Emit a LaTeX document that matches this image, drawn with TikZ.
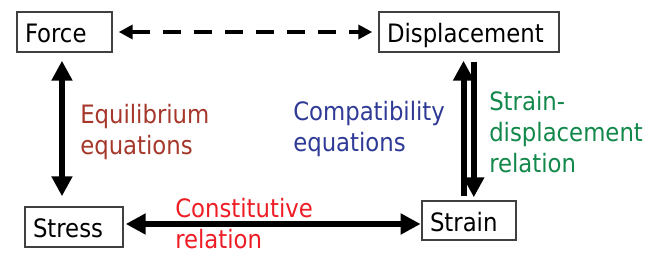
\documentclass[tikz,border=0pt]{standalone}
\usepackage{fontspec}
\setmainfont{DejaVu Sans Condensed}
\usetikzlibrary{arrows.meta}
\definecolor{eqbrown}{RGB}{165, 55, 43}
\definecolor{compblue}{RGB}{47, 58, 150}
\definecolor{sdgreen}{RGB}{18, 136, 74}
\definecolor{constred}{RGB}{238, 29, 37}
\definecolor{boxgray}{RGB}{64, 64, 64}

\begin{document}
\begin{tikzpicture}[x=0.75pt, y=-0.75pt,
  qty/.style={draw=boxgray, line width=1.1pt, minimum height=30pt, inner xsep=6pt, inner ysep=0pt,
    align=left, text height=16.3pt, text depth=0pt, font=\fontsize{19}{23}\selectfont},
  rel/.style={anchor=north west, inner sep=0pt, align=left, font=\fontsize{19}{23.2}\selectfont},
  bigarrow/.style={line width=4.5pt, <->, >={Triangle[length=15pt, width=15pt]}},
  onearrow/.style={line width=4.5pt, ->, >={Triangle[length=15pt, width=15pt]}},
  dasharrow/.style={line width=3pt, <->, >={Triangle[length=10.5pt, width=10.5pt]},
    dash pattern=on 13.5pt off 9.75pt}]
\useasboundingbox (0,0) rectangle (657,266);
% boxes
\node[qty, minimum width=71.25pt, text width=59.25pt] (force) at (64.5,32) {Force};
\node[qty, minimum width=135pt, text width=123pt] (disp) at (469,32) {Displacement};
\node[qty, minimum width=73.5pt, text width=61.5pt] (stress) at (74,227) {Stress};
\node[qty, minimum width=70.5pt, minimum height=29.25pt, text width=58.5pt] (strain) at (469,220.5) {Strain};
% labels
\node[rel, text=eqbrown] (equil) at (80,104) {Equilibrium\\equations};
\node[rel, text=compblue] (compat) at (293,101) {Compatibility\\equations};
\node[rel, text=sdgreen] (straindisp) at (489,91) {Strain-\\displacement\\relation};
\node[rel, text=constred] (const) at (175,198) {Constitutive\\relation};
% connectors
\draw[dasharrow, shorten <=4.5pt, shorten >=4.5pt] (force.east) -- (disp.west);
\draw[bigarrow, shorten <=6pt, shorten >=7.5pt] ([xshift=-1.9pt]force.south) -- ([xshift=-1.9pt]force.south |- stress.north);
\coordinate (cl) at ([yshift=2.25pt]stress.east);
\draw[bigarrow, shorten <=1.5pt, shorten >=0.5pt] (cl) -- (cl -| strain.west);
\draw[onearrow, shorten <=3pt, shorten >=6pt] ([xshift=-4.1pt]strain.north) -- ([xshift=-4.1pt]disp.south);
\draw[onearrow, shorten <=6.75pt, shorten >=2.25pt] ([xshift=3.6pt]disp.south) -- ([xshift=3.6pt]strain.north);
\end{tikzpicture}
\end{document}
